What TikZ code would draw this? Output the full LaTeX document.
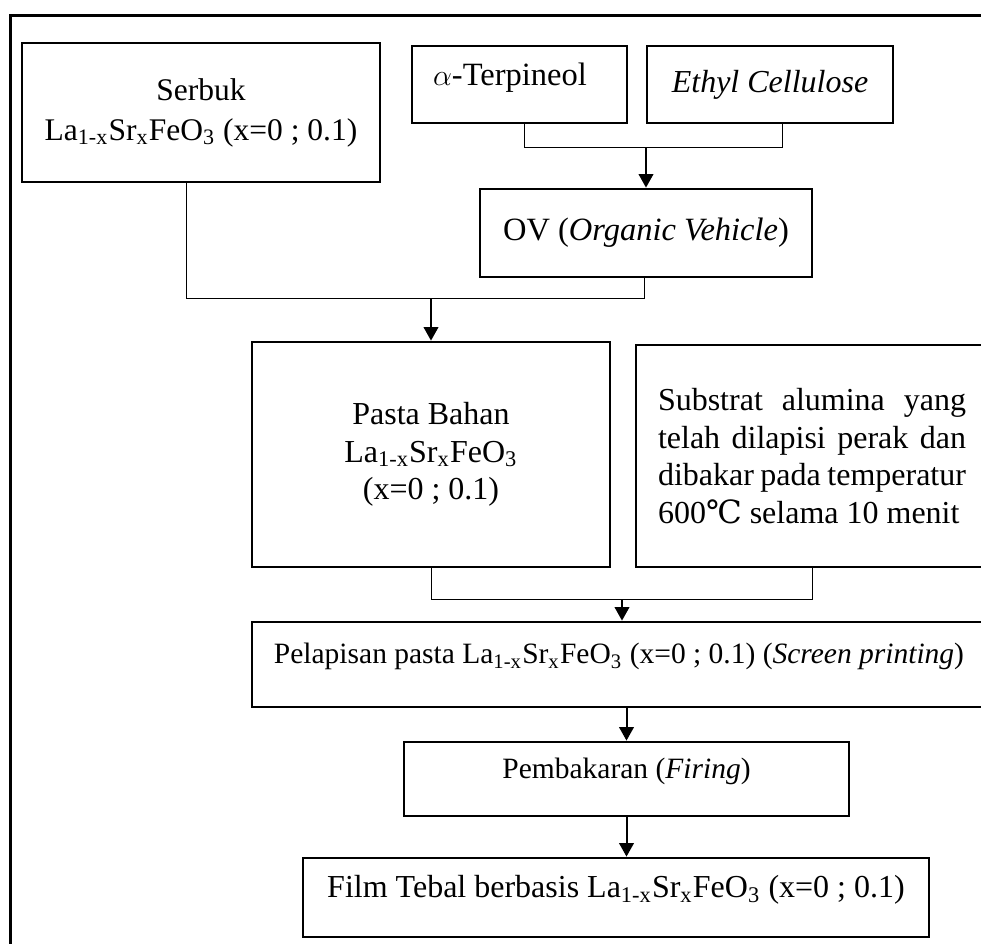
\documentclass[tikz,border=0pt]{standalone}
\usepackage{fontspec}
\setmainfont{Liberation Serif}
\newfontfamily\degfont{DejaVu Serif}
\usetikzlibrary{arrows.meta}
\newcommand{\lsfo}{La\textsubscript{1-x}Sr\textsubscript{x}FeO\textsubscript{3}}
\hbadness=10000
\hyphenpenalty=10000
\exhyphenpenalty=10000

\begin{document}
\begin{tikzpicture}[x=0.4pt, y=-0.4pt]
    \tikzset{box/.style={draw, line width=1.1pt, inner sep=0pt, align=center,
        font=\fontsize{12.8}{15}\selectfont},
      link/.style={line width=0.4pt},
      myarr/.style={line width=0.8pt, -{Triangle[length=5.4pt,width=5.8pt]}}}

    \useasboundingbox (0,0) rectangle (981,943);
    \clip (0,0) rectangle (981,943);

    % outer frame
    \draw[line width=1.2pt] (10,960) -- (10,15) -- (1000,15);

    % top row
    \node[box, minimum width=143.2pt, minimum height=55.6pt,
        font=\fontsize{12.6}{16}\selectfont] (serbuk) at (201,112.5)
        {Serbuk\\ \lsfo{} (x=0 ; 0.1)};
    \node[box, minimum width=86pt, minimum height=30.8pt,
        font=\fontsize{13}{15}\selectfont] (terp) at (519.5,84.5)
        {\hspace*{-7.6pt}\raisebox{2.6pt}[\height][\depth]{$\alpha$-Terpineol}};
    \node[box, minimum width=98.4pt, minimum height=30.8pt] (ethyl) at (770,84.5)
        {\textit{Ethyl Cellulose}};
    \node[box, minimum width=132.8pt, minimum height=35.2pt,
        font=\fontsize{13}{15}\selectfont] (ov) at (646,233)
        {OV (\textit{Organic Vehicle})};

    % middle row
    \node[box, minimum width=143.2pt, minimum height=90pt] (pasta) at (431,454.5)
        {Pasta Bahan\\ \lsfo\\ (x=0 ; 0.1)};
    \node[box, minimum width=140.8pt, minimum height=88.8pt, text width=123.2pt,
        align=justify] (substrat) at (812,456)
        {Substrat alumina yang\linebreak telah dilapisi perak dan\linebreak
         dibakar pada temperatur\linebreak 600{\degfont ℃} selama 10 menit};

    % lower steps
    \node[box, minimum width=293.6pt, minimum height=34pt,
        font=\fontsize{11.8}{14}\selectfont] (pel) at (619,664.5)
        {\raisebox{3.2pt}[\height][\depth]{Pelapisan pasta \lsfo{} (x=0 ; 0.1) (\textit{Screen printing})}};
    \node[box, minimum width=178pt, minimum height=29.6pt,
        font=\fontsize{11.8}{14}\selectfont] (pemb) at (626.5,779)
        {\raisebox{3.2pt}[\height][\depth]{Pembakaran (\textit{Firing})}};
    \node[box, minimum width=250.4pt, minimum height=31.6pt] (film) at (616,897.5)
        {\raisebox{3pt}[\height][\depth]{Film Tebal berbasis \lsfo{} (x=0 ; 0.1)}};

    % lines
    % to OV
    \coordinate (j1) at (646,147);
    \draw[link] ([xshift=1.8pt]terp.south) |- (j1) -| ([xshift=4.8pt]ethyl.south);
    \draw[myarr] (j1) -- (ov.north);
    % to pasta
    \coordinate (j2) at (431,298);
    \draw[link] ([xshift=-6pt]serbuk.south) |- (j2) -| ([xshift=-0.8pt]ov.south);
    \draw[myarr] (j2) -- (pasta.north);
    % to pelapisan
    \coordinate (j3) at (622,599);
    \draw[link] (pasta.south) |- (j3) -| (substrat.south);
    \draw[myarr] (j3) -- (j3 |- pel.north);
    % down the chain
    \draw[myarr] (pemb.north |- pel.south) -- (pemb.north);
    \draw[myarr] (pemb.south) -- (pemb.south |- film.north);
\end{tikzpicture}
\end{document}
